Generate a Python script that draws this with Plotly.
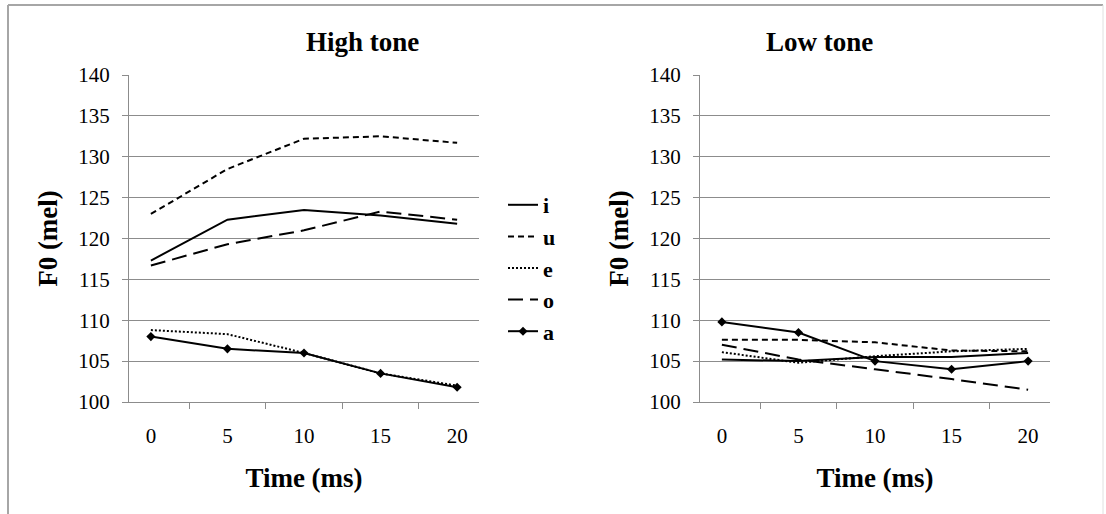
import plotly.graph_objects as go

times = ["0", "5", "10", "15", "20"]
vowels = ["i", "u", "e", "o", "a"]

high_i = [117.3, 122.3, 123.5, 122.8, 121.8]
high_u = [123.0, 128.5, 132.2, 132.5, 131.7]
high_e = [108.8, 108.3, 106.0, 103.5, 102.0]
high_o = [116.7, 119.3, 121.0, 123.3, 122.3]
high_a = [108.0, 106.5, 106.0, 103.5, 101.8]

low_i = [105.2, 105.0, 105.5, 105.5, 106.0]
low_u = [107.6, 107.6, 107.3, 106.3, 106.2]
low_e = [106.1, 104.8, 105.6, 106.2, 106.5]
low_o = [107.0, 105.2, 104.0, 102.8, 101.5]
low_a = [109.8, 108.5, 105.0, 104.0, 105.0]

high = [high_i, high_u, high_e, high_o, high_a]
low = [low_i, low_u, low_e, low_o, low_a]

styles = {
    "i": dict(dash="solid", marker=False),
    "u": dict(dash="6px,4px", marker=False),
    "e": dict(dash="2px,2px", marker=False),
    "o": dict(dash="15px,7px", marker=False),
    "a": dict(dash="solid", marker=True),
}

SERIF = "Liberation Serif"
GRID = "#8c8c8c"
TICK_SIZE = 21
TITLE_SIZE = 27

fig = go.Figure()
for panel, data, xa, ya in [(0, high, "x", "y"), (1, low, "x2", "y2")]:
    for v, vals in zip(vowels, data):
        st = styles[v]
        fig.add_trace(go.Scatter(
            x=times, y=vals, name=v, xaxis=xa, yaxis=ya,
            mode="lines+markers" if st["marker"] else "lines",
            line=dict(color="black", width=2, dash=st["dash"]),
            marker=dict(symbol="diamond", size=7, color="black"),
            showlegend=(panel == 0), legendgroup=v,
        ))

W, H = 1106, 514
def px(x):
    return x / W
def py(y):
    return (H - y) / H

axis_common = dict(
    type="category", showline=True, linecolor=GRID, linewidth=1, automargin=False,
    ticks="outside", tickson="boundaries", ticklen=6, tickcolor=GRID,
    showgrid=False, tickfont=dict(family=SERIF, size=TICK_SIZE, color="black"),
    ticklabelstandoff=15,
    title=dict(text="<b>Time (ms)</b>", font=dict(family=SERIF, size=TITLE_SIZE, color="black"), standoff=20),
)
yaxis_common = dict(
    range=[100, 140], dtick=5, showline=True, linecolor=GRID, linewidth=1, automargin=False,
    ticks="outside", ticklen=6, tickcolor=GRID, showgrid=True, gridcolor=GRID, gridwidth=1,
    tickfont=dict(family=SERIF, size=TICK_SIZE, color="black"), ticklabelstandoff=8,
    title=dict(text="<b>F0 (mel)</b>", font=dict(family=SERIF, size=TITLE_SIZE, color="black"), standoff=12),
    zeroline=False,
)

fig.update_layout(
    width=W, height=H,
    margin=dict(l=0, r=0, t=0, b=0, autoexpand=False),
    paper_bgcolor="white", plot_bgcolor="white",
    xaxis=dict(domain=[px(129), px(479)], anchor="y", **axis_common),
    yaxis=dict(domain=[py(402), py(75)], anchor="x", **yaxis_common),
    xaxis2=dict(domain=[px(700), px(1050)], anchor="y2", **axis_common),
    yaxis2=dict(domain=[py(402), py(75)], anchor="x2", **yaxis_common),
    legend=dict(
        x=px(503), y=py(184), xanchor="left", yanchor="top",
        font=dict(family=SERIF, size=22, color="black", weight="bold"),
        tracegroupgap=0, bgcolor="rgba(0,0,0,0)", itemwidth=30,
    ),
    annotations=[
        dict(text="<b>High tone</b>", x=px(304), y=py(42), xref="paper", yref="paper",
             yanchor="middle", showarrow=False, font=dict(family=SERIF, size=TITLE_SIZE, color="black")),
        dict(text="<b>Low tone</b>", x=px(875), y=py(42), xref="paper", yref="paper",
             yanchor="middle", showarrow=False, font=dict(family=SERIF, size=TITLE_SIZE, color="black")),
    ],
    shapes=[
        dict(type="line", xref="paper", yref="paper", x0=px(8), x1=px(8), y0=0, y1=py(5),
             line=dict(color="#a6a6a6", width=2)),
        dict(type="line", xref="paper", yref="paper", x0=px(8), x1=px(1103), y0=py(5), y1=py(5),
             line=dict(color="#a6a6a6", width=2)),
        dict(type="line", xref="paper", yref="paper", x0=px(1103), x1=px(1103), y0=0, y1=py(5),
             line=dict(color="#e0e0e0", width=1)),
    ],
)

fig.write_html(
    "out.html",
    config={"displayModeBar": False},
    post_script="document.body.style.margin='0';document.body.style.overflow='hidden';",
)
